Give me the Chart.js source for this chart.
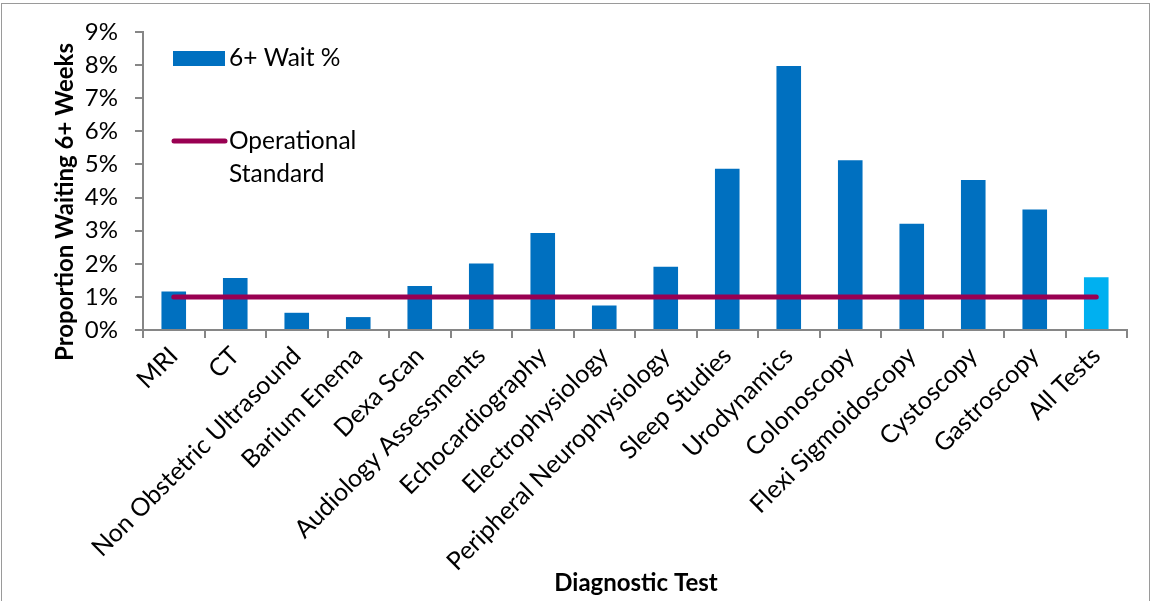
<!DOCTYPE html>
<html>
<head>
<meta charset="utf-8">
<script src="https://cdn.jsdelivr.net/npm/chart.js@4"></script>
<style>
  html, body { margin: 0; padding: 0; background: #fff; overflow: hidden; }
  #wrap { position: absolute; left: 0; top: 0; width: 1152px; height: 601px; }
  #frame { position: absolute; left: 1px; top: 3px; width: 1149px; height: 640px; border: 1.5px solid #9a9a9a; box-sizing: border-box; pointer-events: none; }
</style>
</head>
<body>
<div id="wrap"><canvas id="chart" width="1152" height="601"></canvas></div>
<div id="frame"></div>
<script>
const categories = ['MRI', 'CT', 'Non Obstetric Ultrasound', 'Barium Enema', 'Dexa Scan',
    'Audiology Assessments', 'Echocardiography', 'Electrophysiology', 'Peripheral Neurophysiology',
    'Sleep Studies', 'Urodynamics', 'Colonoscopy', 'Flexi Sigmoidoscopy', 'Cystoscopy',
    'Gastroscopy', 'All Tests'];
const waitPct = [1.16, 1.57, 0.52, 0.39, 1.33, 2.01, 2.93, 0.74, 1.91, 4.87, 7.97, 5.13, 3.21, 4.53, 3.64, 1.59];
const standardPct = [1, 1, 1, 1, 1, 1, 1, 1, 1, 1, 1, 1, 1, 1, 1, 1];
const yTicks = [0, 1, 2, 3, 4, 5, 6, 7, 8, 9];

const FONT = 'Lato';
const BLUE = '#0070C0';
const LIGHT_BLUE = '#00B0F0';
const LINE = '#990052';
const AXIS = '#868686';

// legend + axis titles drawn by hand so they sit where Excel put them
const decor = {
    id: 'decor',
    afterDraw(chart) {
        const c = chart.ctx;
        c.save();
        c.fillStyle = BLUE;
        c.fillRect(173, 51, 52, 15);
        c.strokeStyle = LINE;
        c.lineWidth = 5;
        c.lineCap = 'round';
        c.beginPath();
        c.moveTo(174, 141);
        c.lineTo(225, 141);
        c.stroke();

        c.fillStyle = '#000';
        c.font = `24.5px ${FONT}`;
        c.textAlign = 'left';
        c.textBaseline = 'middle';
        c.fillText('6+ Wait %', 229, 58);
        c.fillText('Operational', 229, 141);
        c.fillText('Standard', 229, 174);

        c.font = `bold 24px ${FONT}`;
        c.textAlign = 'center';
        c.fillText('Diagnostic Test', 636, 583);
        c.translate(65, 202);
        c.rotate(-Math.PI / 2);
        c.fillText('Proportion Waiting 6+ Weeks', 0, 0);
        c.restore();
    }
};

new Chart(document.getElementById('chart'), {
    type: 'bar',
    data: {
        labels: categories,
        datasets: [{
            label: 'Operational Standard',
            type: 'line',
            data: standardPct,
            borderColor: LINE,
            borderWidth: 5,
            borderCapStyle: 'round',
            pointRadius: 0,
            tension: 0,
            order: 0
        }, {
            label: '6+ Wait %',
            data: waitPct,
            backgroundColor: ctx => ctx.dataIndex === categories.length - 1 ? LIGHT_BLUE : BLUE,
            categoryPercentage: 1,
            barPercentage: 0.4,
            order: 1
        }]
    },
    options: {
        responsive: false,
        animation: false,
        devicePixelRatio: 1,
        layout: { padding: { top: 32, right: 25, left: 0, bottom: 0 } },
        plugins: { legend: { display: false }, tooltip: { enabled: false } },
        scales: {
            x: {
                grid: { drawOnChartArea: false, drawTicks: true, tickLength: 8, color: AXIS, lineWidth: 2, offset: true },
                border: { color: AXIS, width: 2 },
                ticks: {
                    color: '#000',
                    font: { family: FONT, size: 25 },
                    minRotation: 45,
                    maxRotation: 45,
                    autoSkip: false,
                    padding: 3
                },
                afterFit: s => { s.height = 271; }
            },
            y: {
                min: 0,
                max: 9,
                afterBuildTicks: s => { s.ticks = yTicks.map(v => ({ value: v })); },
                grid: { drawOnChartArea: false, drawTicks: true, tickLength: 8, color: AXIS, lineWidth: 2 },
                border: { color: AXIS, width: 2 },
                ticks: {
                    color: '#000',
                    font: { family: FONT, size: 24 },
                    padding: 17,
                    callback: v => v + '%'
                },
                afterFit: s => { s.width = 143; }
            }
        }
    },
    plugins: [decor]
});
</script>
</body>
</html>
